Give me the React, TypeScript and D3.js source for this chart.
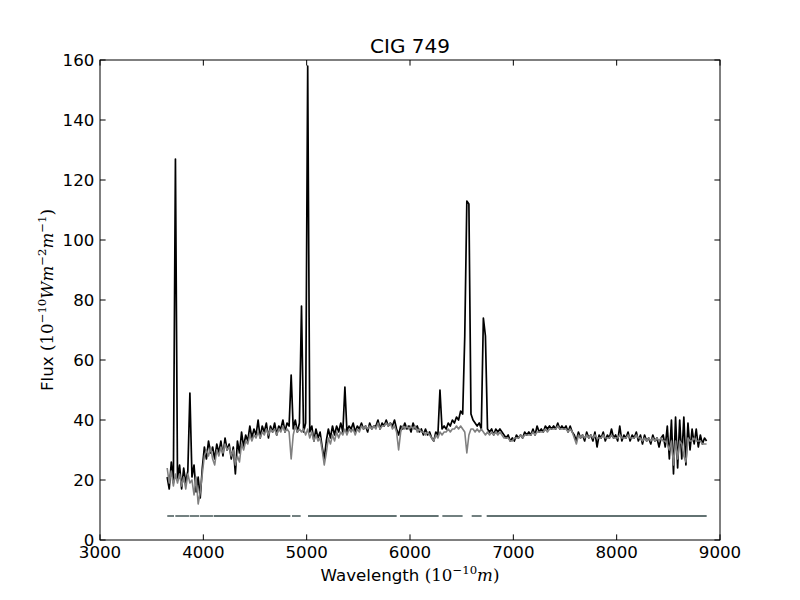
import React from "react";
import * as d3 from "d3";

const titleText = "CIG 749";
const wavelengthStart = 3650;
const wavelengthStep = 20;

const observedFlux = [
  21, 17, 26, 19, 127, 20, 25, 17, 24, 19, 23, 49, 21, 25, 16, 21, 14, 24, 31, 27,
  33, 29, 31, 27, 32, 29, 33, 28, 34, 30, 32, 27, 31, 22, 33, 29, 36, 31, 35, 33,
  38, 34, 37, 35, 40, 34, 38, 36, 39, 34, 38, 36, 39, 35, 38, 37, 40, 36, 39, 38,
  55, 37, 40, 36, 39, 78, 36, 39, 158, 36, 38, 33, 37, 34, 36, 31, 27, 33, 37, 34,
  38, 35, 38, 36, 39, 36, 51, 36, 38, 37, 39, 36, 38, 37, 39, 37, 38, 36, 39, 37,
  38, 38, 40, 37, 39, 38, 40, 38, 39, 38, 40, 37, 35, 38, 37, 39, 37, 38, 36, 39,
  37, 38, 36, 37, 35, 37, 35, 36, 34, 33, 36, 35, 50, 37, 38, 37, 39, 38, 40, 39,
  41, 40, 43, 42, 68, 113, 112, 42, 40, 39, 38, 39, 37, 74, 68, 37, 36, 37, 35, 37,
  36, 37, 36, 35, 34, 35, 33, 34, 33, 35, 34, 35, 34, 36, 35, 36, 35, 37, 35, 38,
  36, 37, 36, 38, 37, 38, 37, 38, 37, 39, 37, 38, 37, 38, 36, 38, 36, 35, 33, 36,
  34, 35, 33, 36, 34, 35, 33, 36, 31, 35, 34, 36, 33, 35, 34, 37, 34, 35, 33, 38,
  33, 35, 34, 36, 33, 35, 34, 36, 33, 35, 32, 35, 33, 34, 32, 35, 33, 34, 31, 34,
  35, 31, 38, 27, 40, 22, 41, 24, 40, 27, 41, 25, 39, 30, 37, 32, 37, 31, 35, 32,
  34, 33,
];

const modelFlux = [
  24, 19, 23, 18, 22, 19, 22, 18, 21, 17, 22, 19, 20, 15, 21, 12, 16, 22, 28, 30,
  28, 31, 27, 25, 30, 28, 31, 29, 32, 30, 31, 28, 30, 25, 28, 26, 32, 30, 33, 32,
  35, 33, 35, 34, 36, 34, 36, 35, 37, 35, 37, 36, 37, 35, 37, 36, 38, 36, 37, 36,
  27, 35, 38, 36, 37, 36, 37, 35, 37, 34, 36, 33, 35, 33, 34, 30, 25, 29, 34, 32,
  35, 33, 36, 34, 36, 35, 37, 35, 37, 36, 37, 35, 37, 36, 38, 37, 38, 37, 38, 37,
  38, 37, 39, 37, 38, 38, 39, 38, 39, 37, 38, 36, 30, 36, 38, 37, 38, 37, 38, 37,
  38, 36, 37, 36, 36, 35, 36, 35, 34, 33, 35, 34, 36, 35, 36, 36, 37, 36, 37, 37,
  38, 37, 38, 37, 36, 29, 35, 37, 37, 36, 37, 36, 37, 36, 35, 36, 35, 36, 35, 36,
  35, 36, 35, 34, 34, 34, 33, 33, 34, 34, 34, 35, 34, 35, 35, 35, 35, 36, 35, 36,
  36, 36, 36, 37, 36, 37, 37, 37, 37, 38, 37, 37, 37, 37, 36, 37, 36, 34, 32, 35,
  34, 35, 34, 35, 34, 35, 34, 35, 34, 34, 34, 35, 34, 34, 34, 35, 34, 34, 34, 35,
  34, 34, 34, 35, 34, 34, 34, 35, 34, 34, 33, 34, 33, 34, 33, 34, 33, 34, 33, 34,
  33, 33, 32, 30, 33, 25, 33, 27, 33, 32, 28, 26, 34, 33, 33, 34, 33, 33, 33, 32,
  32, 32,
];

const maskLevel = 8;
const maskSegments: [number, number][] = [
  [3651, 3716], [3729, 3861], [3867, 3961], [3968, 4093], [4100, 4842],
  [4858, 4942], [5013, 5871], [5903, 6277], [6313, 6509], [6597, 6693],
  [6742, 8871],
];

const xTicks = [3000, 4000, 5000, 6000, 7000, 8000, 9000];
const yTicks = [0, 20, 40, 60, 80, 100, 120, 140, 160];

const W = 800;
const H = 600;
const left = 100;
const right = 720;
const top = 60;
const bottom = 540;
const tickLen = 5.6;
const font = "DejaVu Sans";
const mathFont = "DejaVu Serif";
const fs = 16.67;
const sup = 11.7;

export default function App() {
  const x = d3.scaleLinear().domain([3000, 9000]).range([left, right]);
  const y = d3.scaleLinear().domain([0, 160]).range([bottom, top]);

  const obs: [number, number][] = observedFlux.map((v, i) => [wavelengthStart + wavelengthStep * i, v]);
  const mod: [number, number][] = modelFlux.map((v, i) => [wavelengthStart + wavelengthStep * i, v]);

  const line = d3
    .line<[number, number]>()
    .x((d) => x(d[0]))
    .y((d) => y(d[1]));

  return (
    <div style={{ position: "absolute", left: 0, top: 0 }}>
      <svg width={W} height={H} style={{ display: "block", background: "#fff" }}>
        <rect x={0} y={0} width={W} height={H} fill="#fff" />
        <defs>
          <clipPath id="plotclip">
            <rect x={left} y={top} width={right - left} height={bottom - top} />
          </clipPath>
        </defs>
        <g clipPath="url(#plotclip)">
          <path d={line(obs) || ""} fill="none" stroke="#000" strokeWidth={1.7} strokeLinejoin="round" />
          <path d={line(mod) || ""} fill="none" stroke="#808080" strokeWidth={1.6} strokeLinejoin="round" />
          {maskSegments.map((s, i) => (
            <line
              key={i}
              x1={x(s[0])}
              x2={x(s[1])}
              y1={y(maskLevel)}
              y2={y(maskLevel)}
              stroke="#627272"
              strokeWidth={1.8}
            />
          ))}
        </g>
        <rect x={left} y={top} width={right - left} height={bottom - top} fill="none" stroke="#000" strokeWidth={1} />
        {xTicks.map((t) => (
          <g key={"x" + t}>
            <line x1={x(t)} x2={x(t)} y1={bottom} y2={bottom - tickLen} stroke="#000" />
            <line x1={x(t)} x2={x(t)} y1={top} y2={top + tickLen} stroke="#000" />
            <text x={x(t)} y={558} textAnchor="middle" fontFamily={font} fontSize={fs} fill="#000">
              {t}
            </text>
          </g>
        ))}
        {yTicks.map((t) => (
          <g key={"y" + t}>
            <line x1={left} x2={left + tickLen} y1={y(t)} y2={y(t)} stroke="#000" />
            <line x1={right} x2={right - tickLen} y1={y(t)} y2={y(t)} stroke="#000" />
            <text x={left - 5.6} y={y(t) + 6} textAnchor="end" fontFamily={font} fontSize={fs} fill="#000">
              {t}
            </text>
          </g>
        ))}
        <text x={410} y={53} textAnchor="middle" fontFamily={font} fontSize={20} fill="#000">
          {titleText}
        </text>
        <text x={410} y={581} textAnchor="middle" fontFamily={font} fontSize={fs} fill="#000">
          Wavelength{" "}
          <tspan fontFamily={mathFont}>(10</tspan>
          <tspan fontFamily={mathFont} fontSize={sup} dy={-7}>
            −10
          </tspan>
          <tspan fontFamily={mathFont} fontStyle="italic" dy={7}>
            m
          </tspan>
          <tspan fontFamily={mathFont}>)</tspan>
        </text>
        <text
          transform="translate(53,300) rotate(-90)"
          textAnchor="middle"
          fontFamily={font}
          fontSize={fs}
          fill="#000"
        >
          Flux{" "}
          <tspan fontFamily={mathFont}>(10</tspan>
          <tspan fontFamily={mathFont} fontSize={sup} dy={-7}>
            −10
          </tspan>
          <tspan fontFamily={mathFont} fontStyle="italic" dy={7}>
            Wm
          </tspan>
          <tspan fontFamily={mathFont} fontSize={sup} dy={-7}>
            −2
          </tspan>
          <tspan fontFamily={mathFont} fontStyle="italic" dy={7}>
            m
          </tspan>
          <tspan fontFamily={mathFont} fontSize={sup} dy={-7}>
            −1
          </tspan>
          <tspan fontFamily={mathFont} dy={7}>
            )
          </tspan>
        </text>
      </svg>
    </div>
  );
}
